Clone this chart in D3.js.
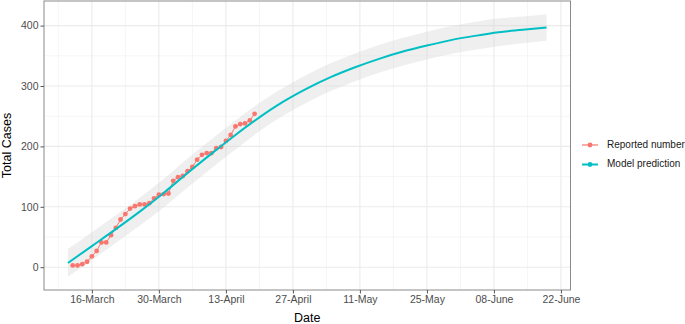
<!DOCTYPE html>
<html>
<head>
<meta charset="utf-8">
<script src="https://cdn.jsdelivr.net/npm/d3@7"></script>
<style>
  body { margin: 0; background: #fff; }
  svg { display: block; font-family: "Liberation Sans", Arial, sans-serif; }
</style>
</head>
<body>
<div id="chart"></div>
<script>
// reported daily totals, one per day starting 12 March
const reportedStart = "2020-03-12";
const reported = [3, 3, 5, 9, 18, 27, 41, 41, 53, 65, 79, 88, 97, 101, 104, 104, 106, 114,
  120, 121, 122, 143, 149, 151, 159, 166, 178, 186, 189, 189, 197, 199, 209, 219, 233,
  237, 238, 243, 254];

// model prediction with its band
const modelDates = ["2020-03-11", "2020-03-16", "2020-03-21", "2020-03-26", "2020-03-31",
  "2020-04-05", "2020-04-10", "2020-04-15", "2020-04-20", "2020-04-25", "2020-04-30",
  "2020-05-05", "2020-05-10", "2020-05-15", "2020-05-20", "2020-05-25", "2020-05-30",
  "2020-06-04", "2020-06-09", "2020-06-14", "2020-06-19"];
const modelFit = [7, 35, 63, 92, 123, 156, 188, 219, 248, 274, 296, 315, 331, 345, 357,
  367, 376, 383, 389, 393, 397];
const modelLower = [-16, 12, 40, 69, 99, 132, 164, 195, 225, 251, 273, 292, 308, 322, 334,
  344, 353, 360, 366, 371, 375];
const modelUpper = [30, 58, 86, 115, 146, 180, 212, 243, 272, 297, 319, 338, 354, 368, 380,
  390, 399, 406, 412, 415, 419];

const xTicks = ["2020-03-16", "2020-03-30", "2020-04-13", "2020-04-27", "2020-05-11",
  "2020-05-25", "2020-06-08", "2020-06-22"];
const xTickLabels = ["16-March", "30-March", "13-April", "27-April", "11-May", "25-May",
  "08-June", "22-June"];
const xMinor = ["2020-03-09", "2020-03-23", "2020-04-06", "2020-04-20", "2020-05-04",
  "2020-05-18", "2020-06-01", "2020-06-15"];
const yTicks = [0, 100, 200, 300, 400];
const yMinor = [50, 150, 250, 350];

const seriesNames = ["Reported number", "Model prediction"];
const seriesColors = ["#F8766D", "#00BFC4"];

const width = 685, height = 324;
const panel = {left: 44, right: 570.5, top: 1, bottom: 290};

const parse = d3.utcParse("%Y-%m-%d");
const start = parse(reportedStart);
const repData = reported.map((v, i) => ({date: d3.utcDay.offset(start, i), value: v}));
const modData = modelDates.map((d, i) => ({date: parse(d), fit: modelFit[i], lo: modelLower[i], hi: modelUpper[i]}));

// ggplot style 5% expansion
const xExt = d3.extent(modData, d => d.date);
const xPad = (xExt[1] - xExt[0]) * 0.05;
const x = d3.scaleUtc()
  .domain([new Date(+xExt[0] - xPad), new Date(+xExt[1] + xPad)])
  .range([panel.left, panel.right]);

const yMin = d3.min(modelLower), yMax = d3.max(modelUpper);
const yPad = (yMax - yMin) * 0.05;
const y = d3.scaleLinear()
  .domain([yMin - yPad, yMax + yPad])
  .range([panel.bottom, panel.top]);

const svg = d3.select("#chart").append("svg")
  .attr("width", width)
  .attr("height", height);

// grid
const grid = svg.append("g");
grid.selectAll(".xminor").data(xMinor).join("line")
  .attr("x1", d => x(parse(d))).attr("x2", d => x(parse(d)))
  .attr("y1", panel.top).attr("y2", panel.bottom)
  .attr("stroke", "#f0f0f0").attr("stroke-width", 0.7);
grid.selectAll(".yminor").data(yMinor).join("line")
  .attr("x1", panel.left).attr("x2", panel.right)
  .attr("y1", d => y(d)).attr("y2", d => y(d))
  .attr("stroke", "#f0f0f0").attr("stroke-width", 0.7);
grid.selectAll(".xmajor").data(xTicks).join("line")
  .attr("x1", d => x(parse(d))).attr("x2", d => x(parse(d)))
  .attr("y1", panel.top).attr("y2", panel.bottom)
  .attr("stroke", "#ebebeb").attr("stroke-width", 1.1);
grid.selectAll(".ymajor").data(yTicks).join("line")
  .attr("x1", panel.left).attr("x2", panel.right)
  .attr("y1", d => y(d)).attr("y2", d => y(d))
  .attr("stroke", "#ebebeb").attr("stroke-width", 1.1);

// band
const area = d3.area()
  .x(d => x(d.date))
  .y0(d => y(d.lo))
  .y1(d => y(d.hi))
  .curve(d3.curveMonotoneX);
svg.append("path")
  .datum(modData)
  .attr("d", area)
  .attr("fill", "#d6d6d6")
  .attr("fill-opacity", 0.4);

// reported
const repLine = d3.line().x(d => x(d.date)).y(d => y(d.value));
svg.append("path")
  .datum(repData)
  .attr("d", repLine)
  .attr("fill", "none")
  .attr("stroke", seriesColors[0])
  .attr("stroke-width", 1);
svg.append("g").selectAll("circle").data(repData).join("circle")
  .attr("cx", d => x(d.date))
  .attr("cy", d => y(d.value))
  .attr("r", 2.4)
  .attr("fill", seriesColors[0]);

// model line
const modLine = d3.line().x(d => x(d.date)).y(d => y(d.fit)).curve(d3.curveMonotoneX);
svg.append("path")
  .datum(modData)
  .attr("d", modLine)
  .attr("fill", "none")
  .attr("stroke", seriesColors[1])
  .attr("stroke-width", 2);

// panel border
svg.append("rect")
  .attr("x", panel.left).attr("y", panel.top)
  .attr("width", panel.right - panel.left)
  .attr("height", panel.bottom - panel.top)
  .attr("fill", "none")
  .attr("stroke", "#8a8a8a")
  .attr("stroke-width", 1);

// axes
const xAxis = d3.axisBottom(x)
  .tickValues(xTicks.map(parse))
  .tickFormat((d, i) => xTickLabels[i])
  .tickSizeOuter(0)
  .tickSize(3.5)
  .tickPadding(2);
const gx = svg.append("g")
  .attr("transform", `translate(0,${panel.bottom})`)
  .call(xAxis);

const yAxis = d3.axisLeft(y)
  .tickValues(yTicks)
  .tickSizeOuter(0)
  .tickSize(3.5)
  .tickPadding(2);
const gy = svg.append("g")
  .attr("transform", `translate(${panel.left},0)`)
  .call(yAxis);

[gx, gy].forEach(g => {
  g.select(".domain").remove();
  g.selectAll(".tick line").attr("stroke", "#555");
  g.selectAll(".tick text")
    .attr("fill", "#4d4d4d")
    .style("font-size", "10.5px")
    .style("font-family", "Liberation Sans, Arial, sans-serif");
});

// axis titles
svg.append("text")
  .attr("x", (panel.left + panel.right) / 2)
  .attr("y", 319)
  .attr("text-anchor", "middle")
  .attr("dominant-baseline", "middle")
  .style("font-size", "12.5px")
  .text("Date");
svg.append("text")
  .attr("transform", `translate(8,${(panel.top + panel.bottom) / 2}) rotate(-90)`)
  .attr("text-anchor", "middle")
  .attr("dominant-baseline", "middle")
  .style("font-size", "12.5px")
  .text("Total Cases");

// legend
const legend = svg.append("g").attr("transform", "translate(582,145)");
const items = legend.selectAll("g").data(seriesNames).join("g")
  .attr("transform", (d, i) => `translate(0,${i * 19.5})`);
items.append("line")
  .attr("x1", 0).attr("x2", 16)
  .attr("stroke", (d, i) => seriesColors[i])
  .attr("stroke-width", (d, i) => i === 0 ? 1.2 : 2);
items.append("circle")
  .attr("cx", 8).attr("r", 2.4)
  .attr("fill", (d, i) => seriesColors[i]);
items.append("text")
  .attr("x", 25)
  .attr("dominant-baseline", "middle")
  .style("font-size", "10px")
  .attr("fill", "#1a1a1a")
  .text(d => d);
</script>
</body>
</html>
